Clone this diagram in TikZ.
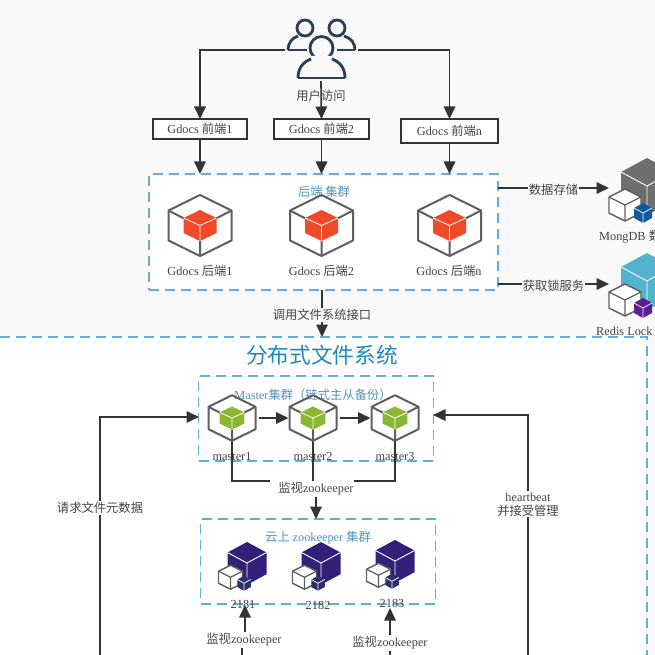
\documentclass[tikz,border=0pt]{standalone}
\usepackage{fontspec}
\setmainfont{Liberation Serif}
\newfontfamily\cjk{Noto Sans CJK SC}
\newcommand{\zh}[1]{{\cjk #1}}
\usetikzlibrary{arrows.meta}
\definecolor{pagebg}{HTML}{F9F9F9}
\definecolor{dashblue}{HTML}{5FAEDC}
\definecolor{titleblue}{HTML}{1E88C0}
\definecolor{ink}{HTML}{333333}
\definecolor{txt}{HTML}{444444}
\definecolor{hexgrey}{HTML}{5F5F5F}
\definecolor{cubered}{HTML}{F04A28}
\definecolor{cubegreen}{HTML}{8AB833}
\definecolor{mongogrey}{HTML}{6E6E6E}
\definecolor{mongoblue}{HTML}{0F5A9C}
\definecolor{redisteal}{HTML}{52B3CF}
\definecolor{redispurple}{HTML}{5A1E96}
\definecolor{zkpurple}{HTML}{32207A}
\definecolor{zknavy}{HTML}{2E2E6E}
\definecolor{usercol}{HTML}{2C3E50}
\tikzset{
  conn/.style={draw=ink,line width=1.7pt,-{Triangle[length=12.5pt,width=11.5pt]}},
  plainconn/.style={draw=ink,line width=1.7pt},
  frontbox/.style={draw=ink,line width=1.7pt,fill=white,inner sep=0pt,outer sep=0pt,font=\fontsize{12.3}{14}\selectfont,text=txt},
  cluster/.style={draw=dashblue,line width=1.2pt,dash pattern=on 10pt off 6pt,fill=white,inner sep=0pt,outer sep=0pt},
  lab/.style={text=txt,font=\fontsize{12.3}{14}\selectfont,inner sep=1pt},
  flab/.style={lab,fill=white},
  bluelab/.style={text=dashblue!85!black,font=\fontsize{12.3}{14}\selectfont,inner sep=0pt},
  ghost/.style={inner sep=0pt,outer sep=0pt},
  pics/hexcube/.style={code={
    \draw[hexgrey,line width=2pt,line join=round]
      (0,-30.5)--(31.5,-15)--(31.5,15)--(0,30.5)--(-31.5,15)--(-31.5,-15)--cycle;
    \draw[hexgrey,line width=2pt] (-31.5,-15)--(-16,-7) (31.5,-15)--(16,-7) (0,30.5)--(0,15);
    \fill[#1] (0,-15.5)--(16.5,-7.5)--(16.5,7.5)--(0,15.5)--(-16.5,7.5)--(-16.5,-7.5)--cycle;
    \draw[white,line width=.8pt] (-16.5,-7.5)--(0,0)--(16.5,-7.5) (0,0)--(0,15.5);
  }},
  pics/stackcube/.style n args={2}{code={
    \fill[#1] (0,0)--(26,14)--(26,43)--(0,57)--(-26,43)--(-26,14)--cycle;
    \draw[white,line width=.9pt] (-26,14)--(0,28)--(26,14) (0,28)--(0,57);
    \draw[hexgrey,line width=1.4pt,fill=white,line join=round]
      (-22,31)--(-6,39)--(-6,55)--(-22,63)--(-38,55)--(-38,39)--cycle;
    \draw[hexgrey,line width=1.2pt] (-38,39)--(-22,47)--(-6,39) (-22,47)--(-22,63);
    \fill[#2] (-4,45)--(5,50)--(5,60)--(-4,65)--(-13,60)--(-13,50)--cycle;
    \draw[white,line width=.7pt] (-13,50)--(-4,55)--(5,50) (-4,55)--(-4,65);
  }},
}
\begin{document}
\begin{tikzpicture}[x=1pt,y=-1pt]
\useasboundingbox (0,0) rectangle (655,655);
\clip (0,0) rectangle (655,655);
\fill[pagebg] (0,0) rectangle (655,655);
\fill[white] (0,337) rectangle (647,655);
\draw[draw=dashblue,line width=1.2pt,dash pattern=on 10pt off 6pt] (0,337) -- (647,337) -- (647,655);

% clusters and boxes
\node[cluster,minimum width=349pt,minimum height=116pt] (backend) at (323.5,232) {};
\node[cluster,minimum width=235pt,minimum height=85pt] (master) at (316,418.5) {};
\node[cluster,minimum width=235pt,minimum height=85pt] (zk) at (318,561.5) {};
\node[frontbox,minimum width=94pt,minimum height=20pt] (fe1) at (200,129) {\raisebox{-1.5pt}{Gdocs \zh{前端}1}};
\node[frontbox,minimum width=95pt,minimum height=20pt] (fe2) at (321.5,129) {\raisebox{-1.5pt}{Gdocs \zh{前端}2}};
\node[frontbox,minimum width=97pt,minimum height=24pt] (fe3) at (449.5,131) {\raisebox{-1.5pt}{Gdocs \zh{前端}n}};

% anchors
\node[ghost,minimum width=72pt,minimum height=62pt] (users) at (321,50) {};
\node[ghost,minimum width=47pt,minimum height=46pt] (m1) at (232,418) {};
\node[ghost,minimum width=47pt,minimum height=46pt] (m2) at (313,418) {};
\node[ghost,minimum width=47pt,minimum height=46pt] (m3) at (395,418) {};
\coordinate (uleft) at (285,50);
\coordinate (uright) at (358,50);
\coordinate (umid) at (321,81);
\coordinate (mongoin) at (609,188);
\coordinate (redisin) at (609,284);
\coordinate (fsin) at (322,337);
\coordinate (busl) at (270,481);
\coordinate (busr) at (354,481);
\coordinate (reqs) at (100,655);
\coordinate (reqt) at (199,417);
\coordinate (hbs) at (528,655);
\coordinate (hbt) at (433,415);
\coordinate (w1a) at (242,655);
\coordinate (w1t) at (245,605);
\coordinate (w2a) at (390,655);
\coordinate (w2t) at (390,608);

% labels that sit on connectors
\node[flab] (zlabel) at (316,489) {\zh{监视}zookeeper};
\node[flab] (w1label) at (244,640) {\zh{监视}zookeeper};
\node[flab] (w2label) at (390,643) {\zh{监视}zookeeper};

% connectors
\draw[conn] (uleft) -| (fe1.north);
\draw[conn] (uright) -| (fe3.north);
\draw[conn] (umid) -- (fe2.north);
\draw[conn] (fe1.south) -- (fe1.south |- backend.north);
\draw[conn] (fe2.south) -- (fe2.south |- backend.north);
\draw[conn] (fe3.south) -- (fe3.south |- backend.north);
\draw[conn] (backend.east |- mongoin) -- (mongoin)
  node[midway,lab,fill=pagebg,yshift=-2pt] {\zh{数据存储}};
\draw[conn] (backend.east |- redisin) -- (redisin)
  node[midway,lab,fill=pagebg,yshift=-1.5pt] {\zh{获取锁服务}};
\draw[conn] (backend.south -| fsin) -- (fsin)
  node[pos=.53,lab,fill=pagebg] {\zh{调用文件系统接口}};
\draw[conn,shorten <=3pt,shorten >=1pt] (m1.east) -- (m2.west);
\draw[conn,shorten <=3pt,shorten >=1pt] (m2.east) -- (m3.west);
\draw[plainconn] (m1.south) |- (busl);
\draw[plainconn] (m3.south) |- (busr);
\draw[plainconn] (m2.south) -- (m2.south |- zlabel.north);
\draw[conn] (zlabel.south) -- (zlabel.south |- zk.north);
\draw[plainconn] (w1a) -- (w1a |- w1label.south);
\draw[conn] (w1t |- w1label.north) -- (w1t);
\draw[plainconn] (w2a) -- (w2a |- w2label.south);
\draw[conn] (w2t |- w2label.north) -- (w2t);
\draw[conn] (reqs) |- (reqt)
  node[pos=.309,flab] {\zh{请求文件元数据}};
\draw[conn] (hbs) |- (hbt)
  node[pos=.314,flab,align=center] {heartbeat\\\zh{并接受管理}};

% users icon
\begin{scope}[usercol,line width=2.8pt]
  \draw (305,28) circle (8pt);
  \draw (337,28) circle (8pt);
  \draw (288,50) .. controls (288,43) and (292,38) .. (298,36);
  \draw (288,50) -- (307,50);
  \draw (355,50) .. controls (355,43) and (351,38) .. (344,36);
  \draw (337,50) -- (355,50);
  \draw[pagebg,line width=6pt,fill=pagebg] (321.5,48) circle (11.5pt);
  \draw[fill=pagebg] (321.5,48) circle (11.5pt);
  \draw[pagebg,line width=6pt,fill=pagebg] (298,78) .. controls (298,68) and (303,62) .. (311,59) -- (332,59) .. controls (340,62) and (345,68) .. (345,78) -- cycle;
  \draw (298,78) .. controls (298,68) and (303,62) .. (311,59);
  \draw (345,78) .. controls (345,68) and (340,62) .. (332,59);
  \draw (298,78) -- (345,78);
\end{scope}
\node[lab] (userlabel) at (321,96) {\zh{用户访问}};

% backend
\node[bluelab] (betitle) at (324,192) {\zh{后端 集群}};
\pic at (200,225.5) {hexcube=cubered};
\pic at (321.5,225.5) {hexcube=cubered};
\pic at (449.5,225.5) {hexcube=cubered};
\node[lab] (be1) at (200,271) {Gdocs \zh{后端}1};
\node[lab] (be2) at (321.5,271) {Gdocs \zh{后端}2};
\node[lab] (be3) at (449,271) {Gdocs \zh{后端}n};

% stores
\pic at (647,158) {stackcube={mongogrey}{mongoblue}};
\pic at (647,253) {stackcube={redisteal}{redispurple}};
\node[lab,anchor=west,inner sep=0pt] (mongolabel) at (599,237) {MongDB \zh{数}};
\node[lab,anchor=west,inner sep=0pt] (redislabel) at (596,331) {Redis Lock};

% file system
\node[text=titleblue,font=\fontsize{21.7}{24}\selectfont,inner sep=0pt] (fstitle) at (322,355) {\zh{分布式文件系统}};
\node[bluelab] (mtitle) at (313,395) {Master\zh{集群（链式主从备份）}};
\pic[scale=.746] at (232,418) {hexcube=cubegreen};
\pic[scale=.746] at (313,418) {hexcube=cubegreen};
\pic[scale=.746] at (395,418) {hexcube=cubegreen};
\node[lab] (ml1) at (232,456) {master1};
\node[lab] (ml2) at (313,456) {master2};
\node[lab] (ml3) at (395,456) {master3};

\node[bluelab] (ztitle) at (318,538) {\zh{云上} zookeeper \zh{集群}};
\pic[scale=.75] at (247,542) {stackcube={zkpurple}{zknavy}};
\pic[scale=.75] at (321,542) {stackcube={zkpurple}{zknavy}};
\pic[scale=.75] at (395,540) {stackcube={zkpurple}{zknavy}};
\node[lab] (z1) at (243,604) {2181};
\node[lab] (z2) at (318,605) {2182};
\node[lab] (z3) at (392,603) {2183};
\end{tikzpicture}
\end{document}
